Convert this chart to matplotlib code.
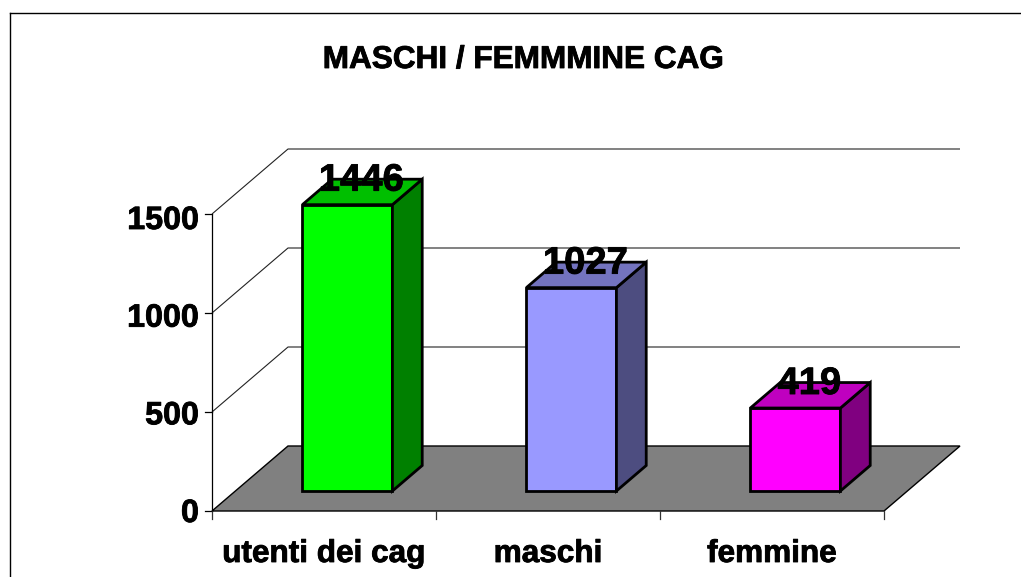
#!/usr/bin/env python3
"""Fake-3D column chart: utenti CAG, maschi / femmine."""
import matplotlib
matplotlib.use("Agg")
import matplotlib.patheffects as pe
import matplotlib.pyplot as plt
from matplotlib.patches import Polygon

categories = ["utenti dei cag", "maschi", "femmine"]
values = [1446, 1027, 419]
front_colors = ["#00FF00", "#9999FF", "#FF00FF"]
top_colors = ["#00BF00", "#7373BF", "#BF00BF"]
side_colors = ["#008000", "#4D4D80", "#800080"]
y_ticks = [0, 500, 1000, 1500]
title = "MASCHI / FEMMMINE CAG"

W, H = 1021, 577
X0, X1, Y0, Y1500 = 212, 884, 511, 214  # front plane in pixels
DEPTH_X, DEPTH_Y = 76, 65  # full depth of the floor in pixels
BAR_WIDTH = 0.402
BAR_D0, BAR_D1 = 0.308, 0.70  # where the columns sit in the depth
HEAVY = [pe.withStroke(linewidth=0.6, foreground="black")]

plt.rcParams["font.family"] = ["Liberation Sans", "DejaVu Sans"]
plt.rcParams["font.weight"] = "bold"

fig = plt.figure(figsize=(W / 100, H / 100), dpi=100)
ax = fig.add_axes([X0 / W, 1 - Y0 / H, (X1 - X0) / W, (Y0 - Y1500) / H])
ax.set_xlim(0, len(categories))
ax.set_ylim(0, y_ticks[-1])
ax.axis("off")

cat_px = (X1 - X0) / len(categories)
val_px = (Y0 - Y1500) / y_ticks[-1]


def proj(x, y, depth=0.0):
    # category/value/depth -> data coords of the front plane
    return x + depth * DEPTH_X / cat_px, y + depth * DEPTH_Y / val_px


def poly(points, face, edge="black", lw=1.0, z=2):
    ax.add_patch(Polygon(points, closed=True, facecolor=face, edgecolor=edge,
                         linewidth=lw, zorder=z, clip_on=False, joinstyle="miter"))


def line(points, color="black", lw=0.8, z=1):
    xs, ys = zip(*points)
    ax.plot(xs, ys, color=color, linewidth=lw, zorder=z, clip_on=False,
            solid_capstyle="butt")


n = len(categories)
# floor
poly([proj(0, 0), proj(n, 0), proj(n, 0, 1), proj(0, 0, 1)], "#808080", lw=1.0, z=1)

# back wall gridlines with their left-wall diagonals
for tick in y_ticks[1:]:
    line([proj(0, tick), proj(0, tick, 1), proj(n, tick, 1)], color="#222222")

# axis line and tick marks
line([proj(0, 0), proj(0, y_ticks[-1])], lw=0.9, z=3)
for tick in y_ticks:
    ax.plot([-7 / cat_px, 0], [tick, tick], color="black", lw=0.9, clip_on=False)
    # labels sit a little under their ticks, more so towards the top
    nudge = (3 + 4 * tick / y_ticks[-1]) / val_px
    ax.text(-13 / cat_px, tick - nudge, str(tick), ha="right", va="center", fontsize=23.2,
            clip_on=False, path_effects=HEAVY)
for i in range(n + 1):
    ax.plot([i, i], [0, -8 / val_px], color="#333333", lw=0.9, clip_on=False)

# columns
for i, (cat, val) in enumerate(zip(categories, values)):
    left = i + 0.5 - BAR_WIDTH / 2
    right = left + BAR_WIDTH
    z = 4 + i
    poly([proj(left, 0, BAR_D0), proj(right, 0, BAR_D0),
          proj(right, val, BAR_D0), proj(left, val, BAR_D0)], front_colors[i], lw=2.0, z=z)
    poly([proj(right, 0, BAR_D0), proj(right, 0, BAR_D1),
          proj(right, val, BAR_D1), proj(right, val, BAR_D0)], side_colors[i], lw=2.0, z=z)
    poly([proj(left, val, BAR_D0), proj(right, val, BAR_D0),
          proj(right, val, BAR_D1), proj(left, val, BAR_D1)], top_colors[i], lw=2.0, z=z)
    lx, ly = proj(i + 0.5, val, BAR_D0)
    ax.text(lx + 14 / cat_px, ly + 24 / val_px, str(val), ha="center", va="center",
            fontsize=27.5, zorder=10, clip_on=False, path_effects=HEAVY)
    ax.text(i + 0.5, -43 / val_px, cat, ha="center", va="center", fontsize=22.7,
            clip_on=False, path_effects=HEAVY)

ax.text((523 - X0) / (X1 - X0), 451 / (Y0 - Y1500), title, transform=ax.transAxes, ha="center",
        va="center", fontsize=22.7, clip_on=False, path_effects=HEAVY)

# chart frame: open on the right and at the bottom
frame_y = 1 - 12.5 / H
fig.add_artist(plt.Line2D([9.5 / W, 9.5 / W], [0, frame_y], color="black", lw=1.0))
fig.add_artist(plt.Line2D([9.5 / W, 1], [frame_y, frame_y], color="black", lw=1.0))

fig.savefig("out.png", dpi=100)
